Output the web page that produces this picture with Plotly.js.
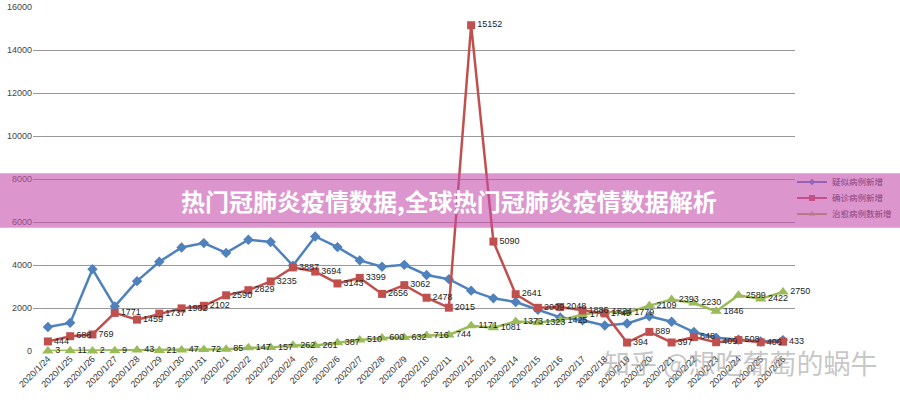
<!DOCTYPE html>
<html>
<head>
<meta charset="utf-8">
<script src="https://cdn.plot.ly/plotly-3.0.1.min.js"></script>
<style>html,body{margin:0;padding:0;background:#fff;}#chart{width:900px;height:400px;}</style>
</head>
<body>
<div id="chart"></div>
<script>
const dates = ["2020/1/24","2020/1/25","2020/1/26","2020/1/27","2020/1/28","2020/1/29","2020/1/30","2020/1/31",
  "2020/2/1","2020/2/2","2020/2/3","2020/2/4","2020/2/5","2020/2/6","2020/2/7","2020/2/8","2020/2/9","2020/2/10",
  "2020/2/11","2020/2/12","2020/2/13","2020/2/14","2020/2/15","2020/2/16","2020/2/17","2020/2/18","2020/2/19",
  "2020/2/20","2020/2/21","2020/2/22","2020/2/23","2020/2/24","2020/2/25","2020/2/26"];
const suspected = [1118,1309,3806,2077,3248,4148,4812,5019,4562,5173,5072,3971,5328,4833,4214,3916,4008,3536,
  3342,2807,2450,2277,1918,1563,1432,1185,1277,1614,1361,882,620,530,439,508];
const confirmed = [444,688,769,1771,1459,1737,1982,2102,2590,2829,3235,3887,3694,3143,3399,2656,3062,2478,
  2015,15152,5090,2641,2009,2048,1886,1749,394,889,397,648,409,508,406,433];
const cured = [3,11,2,9,43,21,47,72,85,147,157,262,261,387,510,600,632,716,744,1171,1081,1373,1323,1425,
  1701,1824,1779,2109,2393,2230,1846,2589,2422,2750];
const seriesNames = ["疑似病例新增","确诊病例新增","治愈病例数新增"];
const yTicks = [0,2000,4000,6000,8000,10000,12000,14000,16000];
const bannerTitle = "热门冠肺炎疫情数据,全球热门冠肺炎疫情数据解析";
const watermark = "知乎 @想吃葡萄的蜗牛";

const labelFont = {family:"Liberation Sans, Arial, sans-serif", size:9, color:"#222"};
const legendFont = {family:"Noto Sans CJK SC, sans-serif", size:8.5, color:"#8A3F7E"};

const traces = [
  {x:dates, y:suspected, type:"scatter", mode:"lines+markers", name:seriesNames[0], showlegend:false,
   line:{color:"#4F81BD", width:2.5}, marker:{symbol:"diamond", size:8, color:"#4F81BD"}},
  {x:dates, y:cured, type:"scatter", mode:"lines+markers+text", name:seriesNames[2], showlegend:false,
   text:cured.map(String), textposition:"middle right", textfont:labelFont, cliponaxis:false,
   line:{color:"#9BBB59", width:2.5}, marker:{symbol:"triangle-up", size:10, color:"#9BBB59"}},
  {x:dates, y:confirmed, type:"scatter", mode:"lines+markers+text", name:seriesNames[1], showlegend:false,
   text:confirmed.map(String), textposition:"middle right", textfont:labelFont, cliponaxis:false,
   line:{color:"#C0504D", width:2.5}, marker:{symbol:"square", size:8, color:"#C0504D"}},
  // legend entries (muted, as seen under the banner)
  {x:[null], y:[null], type:"scatter", mode:"lines+markers", name:seriesNames[0], legend:"legend",
   line:{color:"#9664B3", width:2}, marker:{symbol:"diamond", size:5, color:"#9664B3"}},
  {x:[null], y:[null], type:"scatter", mode:"lines+markers", name:seriesNames[1], legend:"legend2",
   line:{color:"#C35086", width:2}, marker:{symbol:"square", size:6, color:"#C35086"}},
  {x:[null], y:[null], type:"scatter", mode:"lines+markers", name:seriesNames[2], legend:"legend3",
   line:{color:"#B47B8B", width:2}, marker:{symbol:"triangle-up", size:6, color:"#B47B8B"}}
];

function legendAt(yPx){
  return {xref:"container", yref:"container", x:792/900, xanchor:"left", y:1-yPx/400, yanchor:"middle",
    bgcolor:"rgba(0,0,0,0)", font:legendFont, itemwidth:30};
}

const layout = {
  width:900, height:400,
  margin:{l:33, r:105, t:7, b:49, autoexpand:false},
  paper_bgcolor:"#fff", plot_bgcolor:"#fff",
  font:{family:"Liberation Sans, Arial, sans-serif", size:9, color:"#444"},
  xaxis:{type:"category", range:[-0.67,33.54], tickangle:-45, showgrid:false, zeroline:false,
    showline:false, ticks:"", tickfont:{size:9, color:"#333"}, fixedrange:true, automargin:false},
  yaxis:{range:[0,16000], tickvals:yTicks, ticktext:yTicks.map(String), showgrid:true, gridcolor:"#999",
    gridwidth:1, zeroline:false, showline:false, ticks:"", tickfont:{size:9, color:"#444"}, fixedrange:true, automargin:false},
  showlegend:true,
  legend:legendAt(182),
  legend2:legendAt(198),
  legend3:legendAt(214),
  shapes:[
    {type:"rect", xref:"paper", yref:"paper", x0:-0.1, x1:1.2, y0:0.358, y1:0.517, layer:"above",
     fillcolor:"rgba(197,80,172,0.6)", line:{width:0}}
  ],
  annotations:[
    {text:"<b>"+bannerTitle+"</b>", xref:"paper", yref:"paper", x:0.546, y:0.437, showarrow:false,
     xanchor:"center", yanchor:"middle", font:{family:"Noto Sans CJK SC, sans-serif", size:24, color:"#fff"}},
    {text:watermark, xref:"paper", yref:"paper", x:0.928, y:-0.032, showarrow:false,
     xanchor:"center", yanchor:"middle", font:{family:"Noto Sans CJK SC, sans-serif", size:27, color:"rgba(150,150,150,0.55)"}}
  ]
};

Plotly.newPlot("chart", traces, layout, {displayModeBar:false, staticPlot:true});
</script>
</body>
</html>
